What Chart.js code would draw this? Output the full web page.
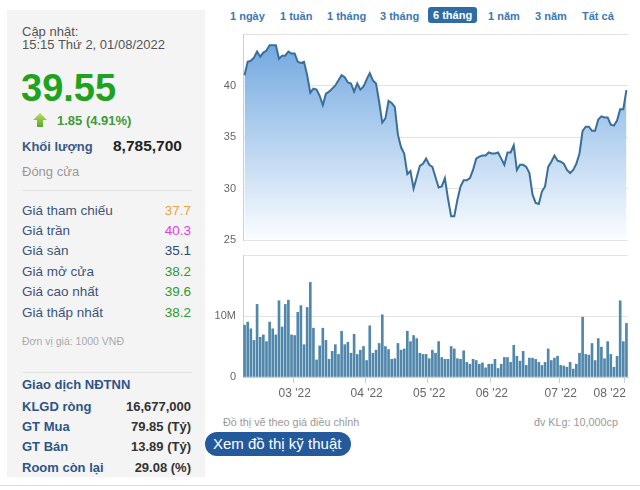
<!DOCTYPE html>
<html>
<head>
<meta charset="utf-8">
<script src="https://cdn.jsdelivr.net/npm/chart.js@4/dist/chart.umd.min.js"></script>
<style>
  body { margin: 0; width: 640px; height: 490px; background: #fff; font-family: 'Liberation Sans', Arial, sans-serif; position: relative; overflow: hidden; }
  .abs { position: absolute; white-space: nowrap; }
  #side { position: absolute; left: 7px; top: 10px; width: 198px; height: 467px; background: #f4f4f4; }
  .sep { position: absolute; left: 23px; width: 169px; height: 1px; background: #e0e0e0; }
  .row { position: absolute; left: 22px; width: 169px; display: flex; justify-content: space-between; line-height: 16px; }
  .price .lbl { font-size: 13.5px; color: #3d5478; }
  .price .val { font-size: 13.5px; }
  .foreign .lbl { font-size: 13px; font-weight: bold; color: #2f5486; }
  .foreign .val { font-size: 13px; font-weight: bold; color: #333; }
  .tab { position: absolute; top: 9px; font-size: 11px; font-weight: bold; color: #3a78b5; line-height: 14px; }
  .tab.on { background: #2e6da4; color: #fff; border-radius: 3px; padding: 1px 5px; top: 7px; }
  .note { position: absolute; top: 415px; font-size: 10.8px; color: #999; line-height: 14px; }
  #btn { position: absolute; left: 205px; top: 432px; height: 24px; padding: 0 10px 0 8px; border-radius: 12px; background: #245a9b; color: #fff; font-size: 15px; line-height: 24px; }
  canvas { position: absolute; }
</style>
</head>
<body>
<div id="side"></div>
<div class="abs" style="left:22px;top:25px;font-size:13px;line-height:13.3px;color:#555">Cập nhật:<br>15:15 Thứ 2, 01/08/2022</div>
<div class="abs" style="left:21px;top:69px;font-size:38px;line-height:38px;font-weight:bold;color:#1fa31f">39.55</div>
<svg class="abs" style="left:32px;top:112px" width="16" height="16" viewBox="0 0 16 16">
  <defs><linearGradient id="ag" x1="0" y1="0" x2="0" y2="1"><stop offset="0" stop-color="#b8e05a"/><stop offset="1" stop-color="#5aa62c"/></linearGradient></defs>
  <polygon points="8,1 15,8 11,8 11,15 5,15 5,8 1,8" fill="url(#ag)"/>
</svg>
<div class="abs" style="left:57px;top:114px;font-size:13px;line-height:14px;font-weight:bold;color:#3e9a3a">1.85 (4.91%)</div>
<div class="abs" style="left:22px;top:140px;font-size:13px;line-height:14px;font-weight:bold;color:#3b5a85">Khối lượng</div>
<div class="abs" style="left:113px;top:138px;font-size:15.5px;line-height:16px;font-weight:bold;color:#222">8,785,700</div>
<div class="abs" style="left:22px;top:165px;font-size:13px;line-height:14px;color:#999">Đóng cửa</div>
<div class="sep" style="top:190px"></div>
<div id="priceRows"></div>
<div class="abs" style="left:22px;top:335px;font-size:10.5px;line-height:13px;color:#aaa">Đơn vị giá: 1000 VNĐ</div>
<div class="sep" style="top:372px"></div>
<div class="abs" style="left:22px;top:378px;font-size:13px;line-height:14px;font-weight:bold;color:#2f5486">Giao dịch NĐTNN</div>
<div id="foreignRows"></div>

<div class="tab" style="left:230px">1 ngày</div>
<div class="tab" style="left:280px">1 tuần</div>
<div class="tab" style="left:327px">1 tháng</div>
<div class="tab" style="left:380px">3 tháng</div>
<div class="tab on" style="left:428px">6 tháng</div>
<div class="tab" style="left:488px">1 năm</div>
<div class="tab" style="left:535px">3 năm</div>
<div class="tab" style="left:582px">Tất cả</div>

<canvas id="priceChart" width="430" height="218" style="left:205px;top:28px"></canvas>
<canvas id="volChart" width="430" height="160" style="left:205px;top:249px"></canvas>

<div class="note" style="left:223px">Đồ thị vẽ theo giá điều chỉnh</div>
<div class="note" style="right:22px">đv KLg: 10,000cp</div>
<div id="btn">Xem đồ thị kỹ thuật</div>
<div class="abs" style="left:0;top:485px;width:640px;height:1px;background:#dcdcdc"></div>

<script>
// trading sessions per month, Feb -> Aug 2022
const monthLabels = ["02 '22", "03 '22", "04 '22", "05 '22", "06 '22", "07 '22", "08 '22"];
const sessionsPerMonth = [16, 23, 20, 20, 22, 21, 1];

// closing price (x1000 VND)
const closeFeb = [41.0, 42.3, 42.4, 42.7, 43.3, 42.8, 43.2, 43.4, 43.9, 43.9, 43.9, 42.6, 42.9, 42.9, 43.3, 43.1];
const closeMar = [43.1, 42.3, 42.2, 42.3, 41.0, 39.3, 39.7, 39.6, 39.0, 38.1, 39.2, 39.4, 39.7, 40.0, 40.5, 41.0, 40.8, 40.3, 40.2, 39.4, 40.2, 39.6, 39.9];
const closeApr = [40.6, 41.2, 40.5, 40.2, 38.4, 36.4, 36.8, 38.5, 38.3, 37.9, 35.2, 34.0, 33.4, 31.4, 31.7, 30.0, 31.1, 32.2, 32.4, 32.9];
const closeMay = [32.3, 32.1, 31.1, 30.1, 30.2, 31.0, 29.0, 27.3, 27.3, 28.9, 30.2, 30.8, 30.8, 31.0, 31.8, 32.9, 33.1, 33.2, 33.2, 33.5];
const closeJun = [33.4, 33.4, 33.5, 32.9, 32.3, 33.5, 33.5, 34.2, 31.8, 32.3, 32.3, 32.1, 31.5, 29.4, 28.6, 28.5, 29.7, 30.2, 32.1, 32.6, 33.2, 32.7];
const closeJul = [32.6, 32.4, 31.8, 31.5, 31.8, 32.4, 33.4, 35.6, 36.0, 36.0, 35.6, 35.6, 36.7, 37.0, 36.9, 36.9, 36.2, 36.1, 36.6, 37.7, 37.7];
const closeAug = [39.55];

// volume (million shares)
const volFeb = [8.5, 9.0, 7.9, 6.0, 11.9, 6.5, 6.9, 5.8, 9.0, 7.9, 6.9, 12.5, 8.2, 11.9, 12.6, 6.9];
const volMar = [6.8, 10.6, 11.7, 5.3, 11.4, 15.5, 8.0, 2.8, 5.1, 8.0, 6.0, 2.9, 4.2, 5.3, 3.7, 7.5, 5.3, 5.7, 3.9, 7.0, 3.7, 4.4, 5.0];
const volApr = [2.7, 8.4, 3.9, 4.4, 5.5, 10.2, 5.0, 4.5, 2.9, 3.0, 5.5, 4.4, 4.6, 7.5, 5.8, 6.8, 6.3, 3.9, 3.7, 3.7];
const volMay = [3.0, 4.4, 3.9, 5.8, 3.2, 2.9, 2.9, 5.0, 4.6, 3.0, 2.9, 4.3, 2.4, 2.1, 2.9, 2.7, 2.1, 2.3, 1.5, 2.1];
const volJun = [2.1, 2.9, 1.4, 2.1, 3.2, 3.2, 2.4, 5.2, 3.4, 2.6, 4.2, 1.9, 3.1, 3.1, 2.9, 2.4, 1.9, 2.4, 4.6, 2.7, 3.1, 3.4];
const volJul = [1.9, 1.8, 1.6, 2.4, 1.3, 2.1, 3.9, 9.8, 3.7, 3.6, 5.5, 2.7, 6.3, 4.9, 3.0, 5.8, 3.7, 1.6, 3.4, 12.5, 5.8];
const volAug = [8.79];

const priceTicks = [25, 30, 35, 40, 45];
const volTicks = [0, 10, 20];

// side panel figures
const priceRows = [
  ['Giá tham chiếu', '37.7', '#f0a040'],
  ['Giá trần', '40.3', '#e03ee0'],
  ['Giá sàn', '35.1', '#2d4a6a'],
  ['Giá mở cửa', '38.2', '#2e9a2e'],
  ['Giá cao nhất', '39.6', '#2e9a2e'],
  ['Giá thấp nhất', '38.2', '#2e9a2e'],
];
const foreignRows = [
  ['KLGD ròng', '16,677,000'],
  ['GT Mua', '79.85 (Tỷ)'],
  ['GT Bán', '13.89 (Tỷ)'],
  ['Room còn lại', '29.08 (%)'],
];

const prices = [].concat(closeFeb, closeMar, closeApr, closeMay, closeJun, closeJul, closeAug);
const volumes = [].concat(volFeb, volMar, volApr, volMay, volJun, volJul, volAug);
const labels = [];
sessionsPerMonth.forEach((n, m) => { for (let d = 0; d < n; d++) labels.push(monthLabels[m]); });
const isMonthStart = (i) => i > 0 && labels[i] !== labels[i - 1];

priceRows.forEach(([l, v, c], k) => {
  const d = document.createElement('div');
  d.className = 'row price';
  d.style.top = (202.5 + k * 20.4) + 'px';
  d.innerHTML = `<span class="lbl">${l}</span><span class="val" style="color:${c}">${v}</span>`;
  document.getElementById('priceRows').appendChild(d);
});
foreignRows.forEach(([l, v], k) => {
  const d = document.createElement('div');
  d.className = 'row foreign';
  d.style.top = (399 + k * 20.2) + 'px';
  d.innerHTML = `<span class="lbl">${l}</span><span class="val">${v}</span>`;
  document.getElementById('foreignRows').appendChild(d);
});

const tickFont = { family: "'Liberation Sans', Arial, sans-serif", size: 11 };
// fixed y-axis width, no extra label overhang so both panels line up
const fitY = (s) => { s.width = 38; s.paddingTop = 0; s.paddingBottom = 0; };
const fitX = (s) => { s.height = 32; s.paddingLeft = 0; s.paddingRight = 0; };

new Chart(document.getElementById('priceChart'), {
  type: 'line',
  data: {
    labels,
    datasets: [{
      data: prices,
      borderColor: '#3b6e99',
      borderWidth: 2,
      pointRadius: 0,
      tension: 0,
      fill: 'start',
      backgroundColor: (ctx) => {
        const a = ctx.chart.chartArea;
        if (!a) return 'rgba(110,166,224,0.5)';
        const g = ctx.chart.ctx.createLinearGradient(0, a.top, 0, a.bottom);
        g.addColorStop(0, '#6ba4df');
        g.addColorStop(0.5, '#b3d1ef');
        g.addColorStop(1, '#fbfdff');
        return g;
      },
    }],
  },
  options: {
    responsive: false,
    animation: false,
    layout: { padding: { top: 6, bottom: 6, right: 7, left: 0 } },
    plugins: { legend: { display: false }, tooltip: { enabled: false } },
    scales: {
      x: { type: 'category', offset: true, display: false },
      y: {
        min: priceTicks[0], max: priceTicks[priceTicks.length - 1],
        afterFit: fitY,
        afterBuildTicks: (s) => { s.ticks = priceTicks.map((v) => ({ value: v })); },
        ticks: { font: tickFont, color: '#666', padding: 7, callback: (v) => (v === 45 ? '' : v) },
        grid: { color: '#e4e4e4', drawTicks: false },
        border: { color: '#cfcfcf' },
      },
    },
  },
});

new Chart(document.getElementById('volChart'), {
  type: 'bar',
  data: {
    labels,
    datasets: [{ data: volumes, backgroundColor: '#5187aa', barThickness: 2 }],
  },
  options: {
    responsive: false,
    animation: false,
    layout: { padding: { top: 6, bottom: 0, right: 7, left: 0 } },
    plugins: { legend: { display: false }, tooltip: { enabled: false } },
    scales: {
      x: {
        afterFit: fitX,
        ticks: {
          autoSkip: false, maxRotation: 0, minRotation: 0, padding: 3,
          font: { family: "'Liberation Sans', Arial, sans-serif", size: 12 }, color: '#666',
          // last label is kept inside the plot, like the original
          callback: (v, i) => (isMonthStart(i) ? (i === labels.length - 1 ? labels[i] + '          ' : labels[i]) : ''),
        },
        grid: {
          drawOnChartArea: false, tickLength: 6,
          color: (ctx) => (isMonthStart(ctx.index) ? '#cfcfcf' : 'rgba(0,0,0,0)'),
        },
        border: { color: '#cfcfcf' },
      },
      y: {
        min: volTicks[0], max: volTicks[volTicks.length - 1],
        afterFit: fitY,
        afterBuildTicks: (s) => { s.ticks = volTicks.map((v) => ({ value: v })); },
        ticks: { font: tickFont, color: '#666', padding: 7, callback: (v) => (v === 20 ? '' : v === 0 ? '0' : v + 'M') },
        grid: { color: '#e4e4e4', drawTicks: false },
        border: { color: '#cfcfcf' },
      },
    },
  },
});
</script>
</body>
</html>
